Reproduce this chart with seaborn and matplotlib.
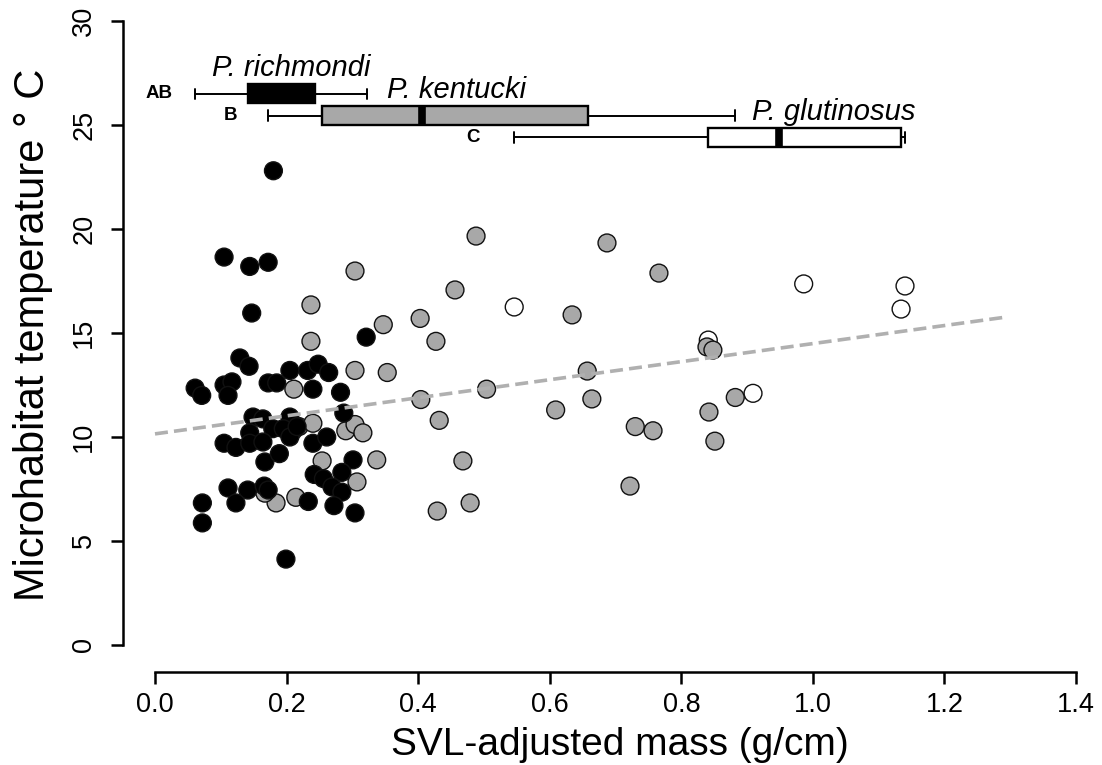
import numpy as np
import pandas as pd
import matplotlib
matplotlib.use("Agg")
import matplotlib.pyplot as plt
import seaborn as sns

# ---- data ----
rich_x = [0.180, 0.105, 0.144, 0.172, 0.147, 0.321, 0.129, 0.143, 0.205, 0.232,
          0.248, 0.264, 0.061, 0.071, 0.105, 0.117, 0.111, 0.172, 0.185, 0.240,
          0.282, 0.287, 0.149, 0.164, 0.205, 0.179, 0.195, 0.144, 0.105, 0.123,
          0.144, 0.164, 0.205, 0.240, 0.261, 0.167, 0.189, 0.301, 0.284, 0.242,
          0.256, 0.269, 0.284, 0.111, 0.141, 0.166, 0.172, 0.123, 0.233, 0.272,
          0.304, 0.072, 0.072, 0.199, 0.216]
rich_y = [22.8, 18.65, 18.2, 18.4, 15.96, 14.8, 13.8, 13.4, 13.2, 13.2,
          13.5, 13.1, 12.35, 12.0, 12.5, 12.65, 12.0, 12.6, 12.6, 12.3,
          12.15, 11.15, 10.96, 10.87, 10.96, 10.4, 10.4, 10.2, 9.7, 9.5,
          9.7, 9.76, 10.0, 9.7, 10.0, 8.8, 9.2, 8.9, 8.3, 8.2,
          8.0, 7.6, 7.35, 7.55, 7.45, 7.64, 7.45, 6.83, 6.9, 6.7,
          6.35, 6.83, 5.87, 4.13, 10.5]

kent_x = [0.304, 0.237, 0.237, 0.347, 0.304, 0.353, 0.211, 0.210, 0.219, 0.240,
          0.290, 0.304, 0.316, 0.254, 0.337, 0.307, 0.184, 0.167, 0.214, 0.488,
          0.456, 0.634, 0.403, 0.427, 0.504, 0.404, 0.609, 0.432, 0.468, 0.479,
          0.429, 0.687, 0.766, 0.839, 0.848, 0.657, 0.664, 0.882, 0.842, 0.730,
          0.757, 0.851, 0.722]
kent_y = [17.98, 16.35, 14.6, 15.4, 13.2, 13.1, 12.3, 10.3, 10.5, 10.66,
          10.3, 10.6, 10.2, 8.85, 8.9, 7.84, 6.83, 7.3, 7.1, 19.66,
          17.07, 15.87, 15.7, 14.6, 12.3, 11.8, 11.3, 10.8, 8.85, 6.83,
          6.44, 19.33, 17.88, 14.33, 14.18, 13.17, 11.83, 11.9, 11.2, 10.5,
          10.3, 9.8, 7.64]

glut_x = [0.546, 0.986, 1.140, 1.134, 0.841, 0.909]
glut_y = [16.25, 17.36, 17.26, 16.15, 14.66, 12.1]

species = ["P. glutinosus", "P. kentucki", "P. richmondi"]
letters = ["C", "B", "AB"]

# box-plot summaries of SVL-adjusted mass (whisker low, q1, median, q3, whisker high)
rich_box = [0.061, 0.141, 0.190, 0.243, 0.322]
kent_box = [0.172, 0.254, 0.406, 0.658, 0.882]
glut_box = [0.546, 0.841, 0.948, 1.134, 1.140]
box_y = [24.4, 25.45, 26.5]

# fitted regression line
fit_x = [0.0, 1.29]
fit_y = [10.15, 15.75]

xticks = [0.0, 0.2, 0.4, 0.6, 0.8, 1.0, 1.2, 1.4]
yticks = [0, 5, 10, 15, 20, 25, 30]

# ---- styling ----
GREY = "#a8a8a8"
sns.set_theme(style="white")
plt.rcParams["font.family"] = ["Liberation Sans", "DejaVu Sans"]
plt.rcParams.update({"text.color": "black", "axes.labelcolor": "black",
                     "xtick.color": "black", "ytick.color": "black"})

W, H = 1102, 765
fig = plt.figure(figsize=(W / 100, H / 100), dpi=100)
ax_l, ax_r, ax_b, ax_t = 123, 1090, 672, 10
ax = fig.add_axes([ax_l / W, (H - ax_b) / H, (ax_r - ax_l) / W, (ax_b - ax_t) / H])
ax.set_xlim((ax_l - 155) / 657.9, (ax_r - 155) / 657.9)
ax.set_ylim((645 - ax_b) / 20.8, (645 - ax_t) / 20.8)

# box plots
stats = []
for name, b in zip(species, [glut_box, kent_box, rich_box]):
    stats.append(dict(label=name, whislo=b[0], q1=b[1], med=b[2], q3=b[3],
                      whishi=b[4], fliers=[]))
fills = ["white", GREY, "black"]
bp = ax.bxp(stats, positions=box_y, widths=0.92, vert=False, patch_artist=True,
            showfliers=False, capwidths=0.5, manage_ticks=False,
            boxprops=dict(linewidth=1.7, edgecolor="black"),
            whiskerprops=dict(linewidth=1.4, color="black"),
            capprops=dict(linewidth=1.4, color="black"),
            medianprops=dict(linewidth=5.5, color="black", solid_capstyle="butt"))
for patch, fc in zip(bp["boxes"], fills):
    patch.set_facecolor(fc)

# species names and group letters
name_x = [1.031, 0.459, 0.207]
for name, yy, nx in zip(species, box_y, name_x):
    ax.text(nx, yy + 0.55, name, ha="center", va="bottom", fontsize=21,
            style="italic")
letter_x = [0.494, 0.125, 0.026]
for let, yy, lx in zip(letters, box_y, letter_x):
    ax.text(lx, yy, let, ha="right", va="center", fontsize=13.5, fontweight="bold")

# scatter
df = pd.DataFrame({
    "mass": glut_x + kent_x + rich_x,
    "temp": glut_y + kent_y + rich_y,
    "species": ["P. glutinosus"] * len(glut_x) + ["P. kentucki"] * len(kent_x)
               + ["P. richmondi"] * len(rich_x),
})
sns.scatterplot(data=df, x="mass", y="temp", hue="species", hue_order=species,
                palette={"P. glutinosus": "white", "P. kentucki": GREY,
                         "P. richmondi": "black"},
                s=165, edgecolor="#111111", linewidth=1.0, legend=False,
                ax=ax, zorder=3)

# regression line
sns.lineplot(x=fit_x, y=fit_y, ax=ax, color="#b0b0b0", linewidth=2.6,
             dashes=False, zorder=4)
ax.lines[-1].set_dashes((3.6, 1.7))

# axes styling (R-like detached axes)
for side in ["top", "right"]:
    ax.spines[side].set_visible(False)
for side in ["left", "bottom"]:
    ax.spines[side].set_linewidth(1.8)
    ax.spines[side].set_color("black")
ax.spines["left"].set_bounds(0, 30)
ax.spines["bottom"].set_bounds(0, 1.4)
ax.set_xticks(xticks)
ax.set_yticks(yticks)
ax.set_xticklabels([f"{v:.1f}" for v in xticks], fontsize=19.5)
ax.set_yticklabels([str(v) for v in yticks], fontsize=19.5, rotation=90, va="center")
ax.tick_params(axis="both", direction="out", length=8.5, width=1.8, color="black",
               left=True, bottom=True)
ax.tick_params(axis="x", pad=6)
ax.tick_params(axis="y", pad=10)

ax.set_xlabel("SVL-adjusted mass (g/cm)", fontsize=28)
ax.set_ylabel("Microhabitat temperature ° C", fontsize=30)
ax.xaxis.set_label_coords((620 - ax_l) / (ax_r - ax_l), (ax_b - 745) / (ax_b - ax_t))
ax.yaxis.set_label_coords((33 - ax_l) / (ax_r - ax_l), (ax_b - 335) / (ax_b - ax_t))
ax.xaxis.label.set_va("center")
ax.yaxis.label.set_va("center")
ax.grid(False)

fig.savefig("out.png", dpi=100, facecolor="white")
